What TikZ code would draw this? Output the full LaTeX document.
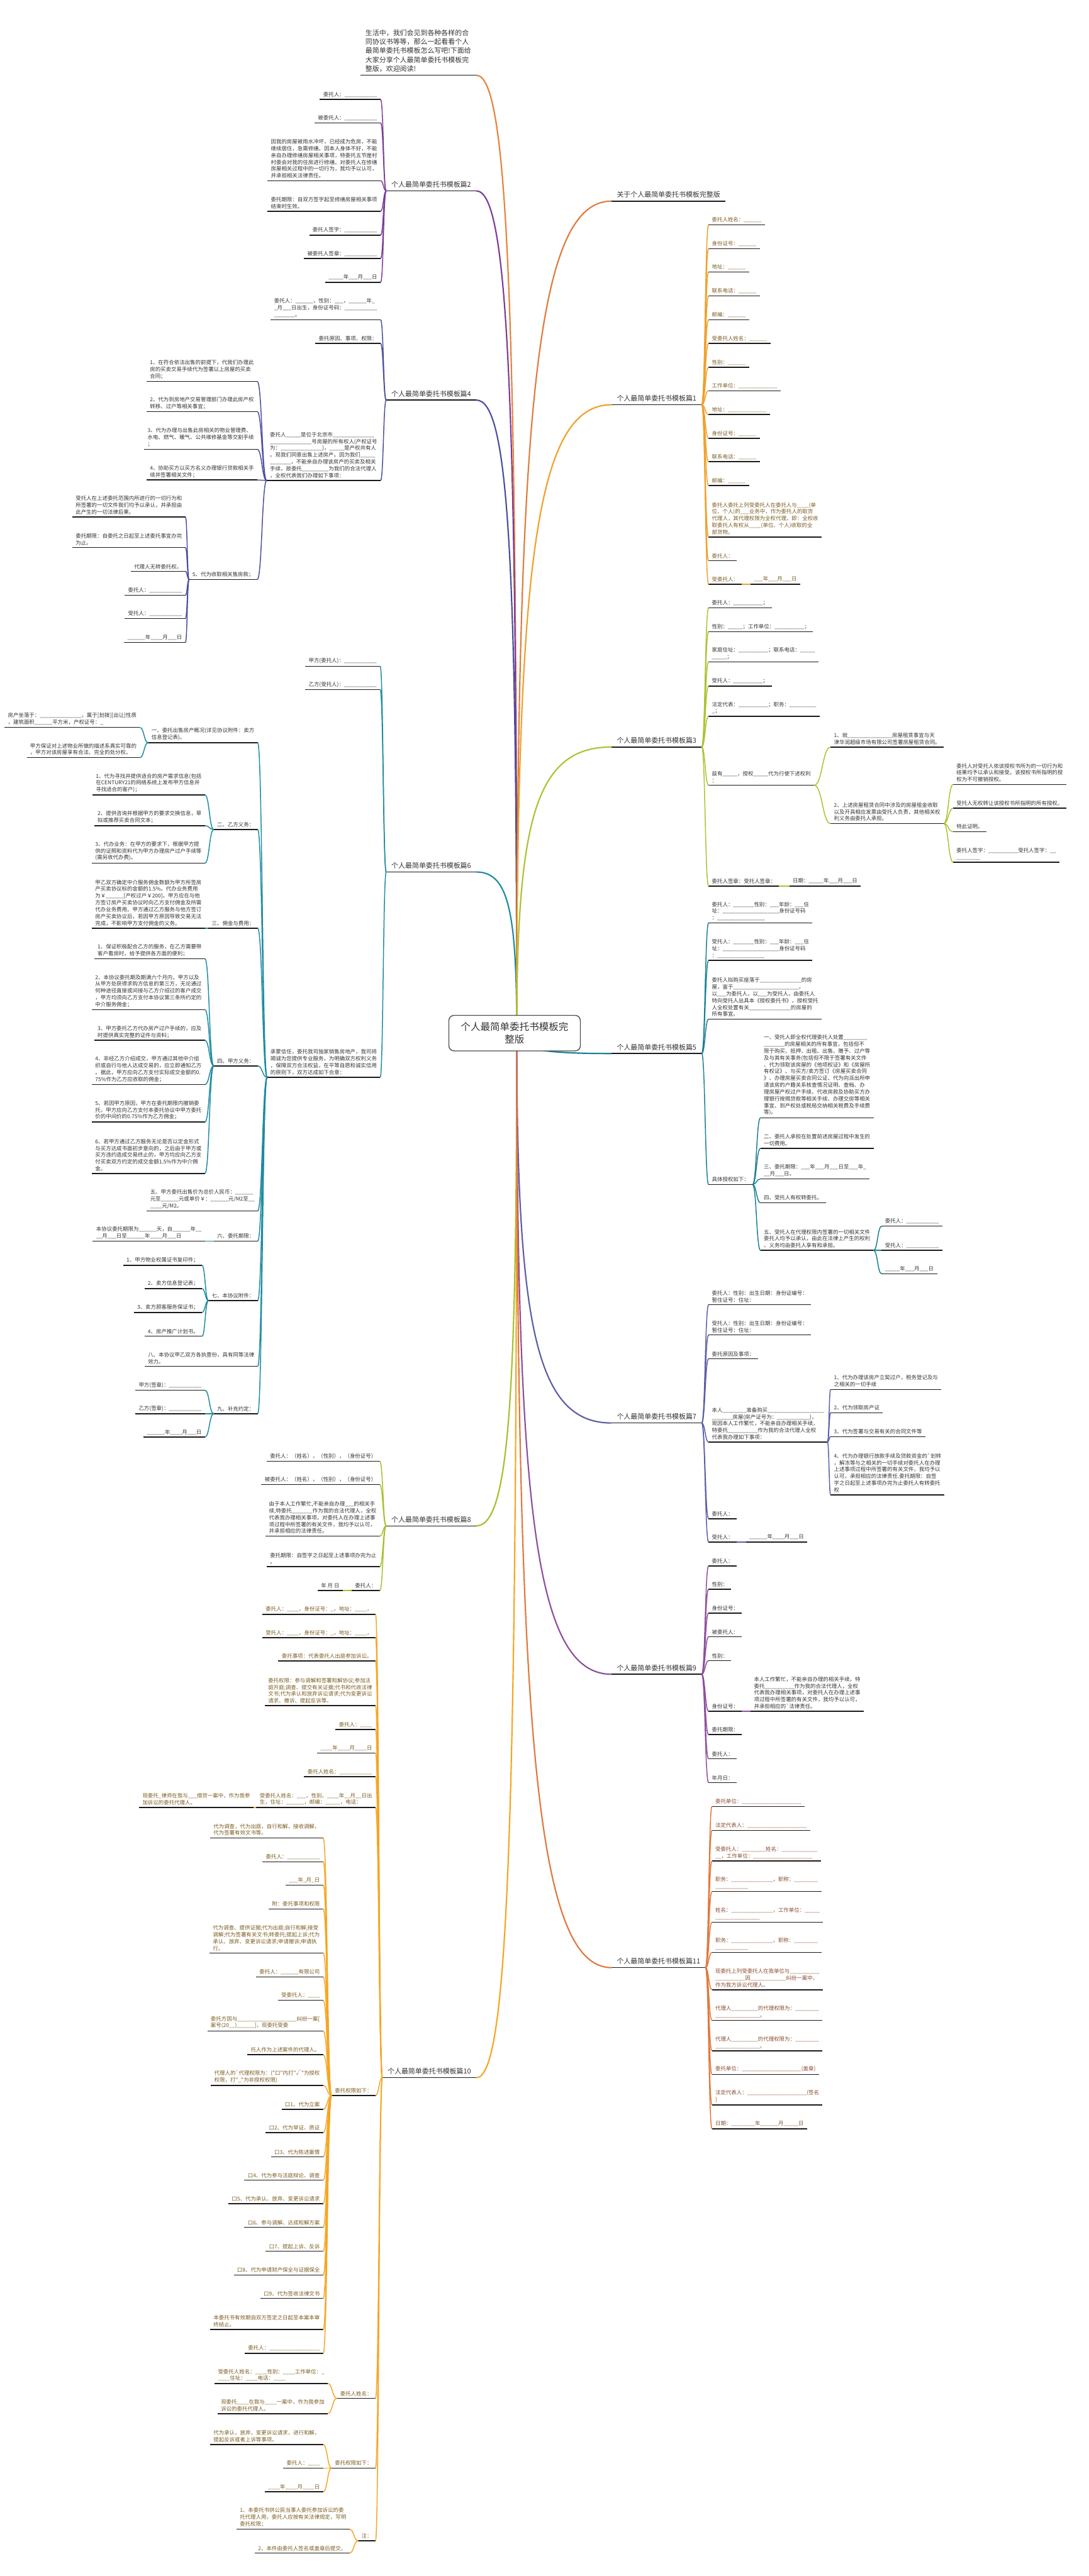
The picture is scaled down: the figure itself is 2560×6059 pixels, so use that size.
\documentclass[tikz,border=0pt]{standalone}
\usepackage{fontspec}
\newfontfamily\cjk{Noto Sans CJK SC}
\usetikzlibrary{calc}
\newcount\uscnt
\newcommand\usc[1]{\uscnt=#1\relax\loop\ifnum\uscnt>0 \_\advance\uscnt by -1\relax\repeat}
\newcommand\lfs{\cjk\fontsize{6.25pt}{8pt}\selectfont}
\newcommand\bfs{\cjk\fontsize{8.1pt}{10.6pt}\selectfont}
\newcommand\rfs{\cjk\fontsize{11.5pt}{15pt}\selectfont}
\definecolor{ulc}{HTML}{1A1A1A}
\definecolor{txd}{HTML}{333333}
\definecolor{tbr}{HTML}{7A5B1E}
\definecolor{trd}{HTML}{8A4B2E}
\definecolor{c0}{HTML}{E8823A}
\definecolor{c2}{HTML}{7D3C98}
\definecolor{c4}{HTML}{4B4E9C}
\definecolor{c6}{HTML}{1E8BA0}
\definecolor{c8}{HTML}{A3C12F}
\definecolor{c10}{HTML}{F5A623}
\definecolor{cA}{HTML}{E07B3C}
\definecolor{c1}{HTML}{F0A02A}
\definecolor{c3}{HTML}{A9C432}
\definecolor{c5}{HTML}{1B7F95}
\definecolor{c7}{HTML}{5B5EA6}
\definecolor{c9}{HTML}{8E4E9E}
\definecolor{c11}{HTML}{E0783E}
\tikzset{
  ulst/.style={draw=ulc, line width=1.1pt},
  leafb/.style={inner xsep=3.8pt, inner ysep=2.6pt, align=left, font=\lfs, text=txd,
     append after command={(\tikzlastnode.south west) edge[ulst] (\tikzlastnode.south east)}},
  lnode/.style={leafb, anchor=south east},
  rnode/.style={leafb, anchor=south west},
  brb/.style={inner xsep=6pt, inner ysep=3.5pt, align=left, font=\bfs, text=txd,
     append after command={(\tikzlastnode.south west) edge[ulst] (\tikzlastnode.south east)}},
  lbr/.style={brb, anchor=south east},
  rbr/.style={brb, anchor=south west},
  cn/.style={line width=1.1pt},
  rc/.style={line width=1.6pt},
  rootst/.style={draw=black!70, line width=1pt, rounded corners=6pt, fill=white, font=\rfs, text=txd, align=center, inner xsep=14pt, inner ysep=8pt}
}
\newcommand\LN[4][]{\node[lnode,#1] (#2) at #3 {#4};}
\newcommand\RN[4][]{\node[rnode,#1] (#2) at #3 {#4};}
\newcommand\CL[3]{\draw[cn,#1] let \p1=(#2.south west), \p2=(#3.south east), \p3=($(\p1)!.5!(\p2)$) in (\p1) .. controls (\x3,\y1) and (\x3,\y2) .. (\p2);}
\newcommand\CR[3]{\draw[cn,#1] let \p1=(#2.south east), \p2=(#3.south west), \p3=($(\p1)!.5!(\p2)$) in (\p1) .. controls (\x3,\y1) and (\x3,\y2) .. (\p2);}
\newcommand\RL[2]{\draw[rc,#1] let \p1=(#2.south east), \p2=(R) in (\p1) .. controls ($(\p1)!.8!(\x2,\y1)$) and ($(\x2,\y1)!.25!(\p2)$) .. (\p2);}
\newcommand\RRt[2]{\draw[rc,#1] let \p1=(#2.south west), \p2=(R) in (\p1) .. controls ($(\p1)!.8!(\x2,\y1)$) and ($(\x2,\y1)!.25!(\p2)$) .. (\p2);}
\begin{document}
\begin{tikzpicture}[x=0.5pt,y=-0.5pt]
\fill[white] (0,0) rectangle (2560,6059);
\useasboundingbox (0,0) rectangle (2560,6059);
\coordinate (R) at (1215,2430);
% ---------------- intro
\node[lbr] (intro) at (1120,177) {生活中，我们会见到各种各样的合\\同协议书等等，那么一起看看个人\\最简单委托书模板怎么写吧!下面给\\大家分享个人最简单委托书模板完\\整版，欢迎阅读!};
% ---------------- branches
\node[lbr] (b2) at (1120,449) {个人最简单委托书模板篇2};
\node[lbr] (b4) at (1120,941) {个人最简单委托书模板篇4};
\node[lbr] (b6) at (1120,2051) {个人最简单委托书模板篇6};
\node[lbr] (b8) at (1120,3589) {个人最简单委托书模板篇8};
\node[lbr] (b10) at (1120,4887) {个人最简单委托书模板篇10};
\node[rbr] (bA) at (1438,473) {关于个人最简单委托书模板完整版};
\node[rbr] (b1) at (1438,952) {个人最简单委托书模板篇1};
\node[rbr] (b3) at (1438,1757) {个人最简单委托书模板篇3};
\node[rbr] (b5) at (1438,2478) {个人最简单委托书模板篇5};
\node[rbr] (b7) at (1438,3347) {个人最简单委托书模板篇7};
\node[rbr] (b9) at (1438,3938) {个人最简单委托书模板篇9};
\node[rbr] (b11) at (1438,4628) {个人最简单委托书模板篇11};
% ---------------- 篇2
\LN{a1}{(895,234)}{委托人：\usc{11}}
\LN{a2}{(895,289)}{被委托人：\usc{11}}
\LN{a3}{(895,425)}{因我的房屋被雨水冲坏，已经成为危房，不能\\继续居住，急需修缮。因本人身体不好，不能\\亲自办理修缮房屋相关事项，特委托五节崖村\\村委会对我的住房进行修缮。对委托人在修缮\\房屋相关过程中的一切行为，我均予以认可，\\并承担相关法律责任。}
\LN{a4}{(895,497)}{委托期限：自双方签字起至修缮房屋相关事项\\结束时生效。}
\LN{a5}{(895,553)}{委托人签字：\usc{11}}
\LN{a6}{(895,608)}{被委托人签章：\usc{11}}
\LN{a7}{(895,664)}{\usc{5}年\usc{3}月\usc{3}日}
% ---------------- 篇4
\LN{d1}{(895,752)}{委托人：\usc{6}，性别：\usc{3}，\usc{6}年\_\\\_月\usc{3}日出生，身份证号码：\usc{11}\\\usc{7}。}
\LN{d2}{(895,808)}{委托原因、事项、权限：}
\LN{d3}{(895,1130)}{委托人\usc{5}是位于北京市\usc{14}\\\usc{14}号房屋的所有权人(产权证号\\为：\usc{14})，\usc{5}是产权共有人\\。现我们同意出售上述房产。因为我们\usc{5}\\\usc{7}，不能亲自办理该房产的买卖及相关\\手续，故委托\usc{9}为我们的合法代理人\\，全权代表我们办理如下事项：}
\LN{d31}{(605,897)}{1、在符合依法出售的前提下，代我们办理此\\房的买卖交易手续代为签署以上房屋的买卖\\合同；}
\LN{d32}{(605,968)}{2、代为到房地产交易管理部门办理此房产权\\转移、过户等相关事宜；}
\LN{d33}{(605,1057)}{3、代为办理与出售此房相关的物业管理费、\\水电、燃气、暖气、公共维修基金等交割手续\\；}
\LN{d34}{(605,1129)}{4、协助买方以买方名义办理银行贷款相关手\\续并签署相关文件；}
\LN{d35}{(605,1363)}{5、代为收取相关售房款；}
\LN{d351}{(436,1216)}{受托人在上述委托范围内所进行的一切行为和\\所签署的一切文件我们均予以承认，并承担由\\此产生的一切法律后果。}
\LN{d352}{(436,1288)}{委托期限：自委托之日起至上述委托事宜办完\\为止。}
\LN{d353}{(436,1344)}{代理人无转委托权。}
\LN{d354}{(436,1400)}{委托人：\usc{11}}
\LN{d355}{(436,1455)}{受托人：\usc{11}}
\LN{d356}{(436,1511)}{\usc{6}年\usc{4}月\usc{3}日}
% ---------------- 篇6
\LN{f1}{(894,1567)}{甲方(委托人)：\usc{11}}
\LN{f2}{(894,1622)}{乙方(受托人)：\usc{11}}
\LN{f3}{(894,2534)}{承蒙信任，委托我司独家销售房地产，我司将\\竭诚为您提供专业服务，为明确双方权利义务\\，保障双方合法权益，在平等自愿和诚实信用\\的原则下，双方达成如下合意：}
\LN{g1}{(606,1747)}{一、委托出售房产概况(详见协议附件：卖方\\信息登记表)。}
\LN{g11}{(329,1711)}{房产坐落于：\usc{14}，属于[划拨][出让]性质\\，建筑面积\usc{6}平方米，产权证号：\_}
\LN{g12}{(329,1782)}{甲方保证对上述物业所做的描述系真实可靠的\\，甲方对该房屋享有合法、完全的处分权。}
\LN{g2}{(606,1951)}{二、乙方义务：}
\LN{g21}{(482,1870)}{1、代为寻找并提供适合的房产需求信息(包括\\在CENTURY21的网络系统上发布甲方信息并\\寻找适合的客户)；}
\LN{g22}{(482,1942)}{2、提供咨询并根据甲方的要求交换信息，草\\拟或推荐买卖合同文本；}
\LN{g23}{(482,2030)}{3、代办业务：在甲方的要求下，根据甲方提\\供的证照和资料代为甲方办理房产过户手续等\\(需另收代办费)。}
\LN{g3}{(606,2183)}{三、佣金与费用：}
\LN{g31}{(482,2183)}{甲乙双方确定中介服务佣金数额为甲方所签房\\产买卖协议标的金额的1.5\%。代办业务费用\\为￥\usc{6}[产权过户￥200]。甲方应在与他\\方签订房产买卖协议时向乙方支付佣金及所需\\代办业务费用。甲方通过乙方服务与他方签订\\房产买卖协议后，若因甲方原因导致交易无法\\完成，不影响甲方支付佣金的义务。}
\LN{g4}{(606,2507)}{四、甲方义务：}
\LN{g41}{(482,2255)}{1、保证积极配合乙方的服务，在乙方需要带\\客户看房时，给予提供各方面的便利；}
\LN{g42}{(482,2375)}{2、本协议委托期及期满六个月内，甲方以及\\从甲方处获得求购方信息的第三方，无论通过\\何种途径直接或间接与乙方介绍过的客户成交\\，甲方均须向乙方支付本协议第三条所约定的\\中介服务佣金；}
\LN{g43}{(482,2447)}{3、甲方委托乙方代办房产过户手续的，应及\\时提供真实完整的证件与资料；}
\LN{g44}{(482,2551)}{4、非经乙方介绍成交，甲方通过其他中介组\\织或自行与他人达成交易的，应立即通知乙方\\。据此，甲方应向乙方支付实际成交金额的0.\\75\%作为乙方应收取的佣金；}
\LN{g45}{(482,2639)}{5、若因甲方原因，甲方在委托期限内撤销委\\托，甲方应向乙方支付本委托协议中甲方委托\\价的中间价的0.75\%作为乙方佣金；}
\LN{g46}{(482,2760)}{6、若甲方通过乙方服务无论是否以定金形式\\与买方达成书面初步意向的，之后由于甲方或\\买方违约造成交易终止的，甲方均应向乙方支\\付买卖双方约定的成交金额1.5\%作为中介佣\\金。}
\LN{g5}{(606,2848)}{五、甲方委托出售价为总价人民币：\usc{6}\\元至\usc{6}元或单价￥：\usc{6}元/M2至\usc{2}\\\usc{4}元/M2。}
\LN{g6}{(606,2919)}{六、委托期限：}
\LN{g61}{(482,2919)}{本协议委托期限为\usc{6}天，自\usc{6}年\usc{2}\\\usc{2}月\usc{3}日至\usc{6}年\usc{4}月\usc{3}日}
\LN{g7}{(606,3059)}{七、本协议附件：}
\LN{g71}{(475,2976)}{1、甲方物业权属证书复印件；}
\LN{g72}{(475,3031)}{2、卖方信息登记表；}
\LN{g73}{(475,3087)}{3、卖方顾客服务保证书；}
\LN{g74}{(475,3143)}{4、房产推广计划书。}
\LN{g8}{(606,3214)}{八、本协议甲乙双方各执壹份，具有同等法律\\效力。}
\LN{g9}{(606,3325)}{九、补充约定：}
\LN{g91}{(482,3270)}{甲方(签章)：\usc{11}}
\LN{g92}{(482,3325)}{乙方(签章)：\usc{11}}
\LN{g93}{(482,3380)}{\usc{6}年\usc{4}月\usc{3}日}
% ---------------- 篇8
\LN{h1}{(893,3437)}{委托人：（姓名），（性别），（身份证号）}
\LN{h2}{(893,3492)}{被委托人：（姓名），（性别），（身份证号）}
\LN{h3}{(893,3613)}{由于本人工作繁忙,不能亲自办理\usc{3}的相关手\\续,特委托\usc{7}作为我的合法代理人，全权\\代表我办理相关事项，对委托人在办理上述事\\项过程中所签署的有关文件，我均予以认可，\\并承担相应的法律责任。}
\LN{h4}{(893,3685)}{委托期限：自签字之日起至上述事项办完为止\\。}
\LN{h5}{(893,3741)}{委托人：}
\LN{h51}{(806,3741)}{年 月 日}
% ---------------- 篇10
\LN[text=tbr]{k1}{(883,3797)}{委托人：\usc{4}，身份证号：\_，地址：\usc{4}，}
\LN[text=tbr]{k2}{(883,3852)}{受托人：\usc{4}，身份证号：\_，地址：\usc{4}，}
\LN[text=tbr]{k3}{(883,3907)}{委托事项：代表委托人出庭参加诉讼。}
\LN[text=tbr]{k4}{(883,4012)}{委托权限：参与调解和签署和解协议;参加法\\庭开庭;调查、提交有关证据;代书和代收法律\\文书;代为承认和放弃诉讼请求;代为变更诉讼\\请求、撤诉、提起反诉等。}
\LN[text=tbr]{k5}{(883,4068)}{委托人：\usc{4}}
\LN[text=tbr]{k6}{(883,4123)}{\usc{4}年\usc{4}月\usc{4}日}
\LN[text=tbr]{k7}{(883,4179)}{委托人姓名：\usc{11}}
\LN[text=tbr]{k8}{(883,4251)}{受委托人姓名：\usc{3}，性别，\usc{4}年\usc{2}月\usc{2}日出\\生，住址：\usc{6}，邮编：\usc{5}，电话：}
\LN[text=tbr]{k81}{(596,4251)}{现委托\_律师在我与\usc{3}借贷一案中，作为我参\\加诉讼的委托代理人。}
\LN[text=tbr]{k9}{(883,4929)}{委托权限如下：}
\LN[text=tbr]{m1}{(760,4323)}{代为调查，代为出庭，自行和解，接收调解，\\代为签署有效文书等。}
\LN[text=tbr]{m2}{(760,4379)}{委托人：\usc{11}}
\LN[text=tbr]{m3}{(760,4434)}{\usc{3}年\_月\_日}
\LN[text=tbr]{m4}{(760,4490)}{附：委托事项和权限}
\LN[text=tbr]{m5}{(760,4594)}{代为调查、提供证据;代为出庭;自行和解;接受\\调解;代为签署有关文书;转委托;提起上诉;代为\\承认、放弃、变更诉讼请求;申请撤诉;申请执\\行。}
\LN[text=tbr]{m6}{(760,4650)}{委托人：\usc{6}有限公司}
\LN[text=tbr]{m7}{(760,4705)}{受委托人：\usc{4}}
\LN[text=tbr]{m8}{(760,4777)}{委托方因与\usc{20}纠纷一案[\\案号(20\usc{2})\usc{6}]，现委托受委}
\LN[text=tbr]{m9}{(760,4833)}{托人作为上述案件的代理人。}
\LN[text=tbr]{m10}{(760,4905)}{代理人的`代理权限为：("口"内打"√"为授权\\权限，打"\_"为非授权权限)}
\LN[text=tbr]{m11}{(760,4961)}{口1、代为立案}
\LN[text=tbr]{m12}{(760,5016)}{口2、代为举证、质证}
\LN[text=tbr]{m13}{(760,5073)}{口3、代为陈述案情}
\LN[text=tbr]{m14}{(760,5128)}{口4、代为参与法庭辩论、调查}
\LN[text=tbr]{m15}{(760,5183)}{口5、代为承认、放弃、变更诉讼请求}
\LN[text=tbr]{m16}{(760,5239)}{口6、参与调解、达成和解方案}
\LN[text=tbr]{m17}{(760,5295)}{口7、提起上诉、反诉}
\LN[text=tbr]{m18}{(760,5351)}{口8、代为申请财产保全与证据保全}
\LN[text=tbr]{m19}{(760,5406)}{口9、代为签收法律文书}
\LN[text=tbr]{m20}{(760,5479)}{本委托书有效期自双方签定之日起至本案本审\\终结止。}
\LN[text=tbr]{m21}{(760,5535)}{委托人：\usc{17}}
\LN[text=tbr]{k10}{(883,5641)}{委托人姓名：}
\LN[text=tbr]{n1}{(771,5606)}{受委托人姓名：\usc{4}性别：\usc{4}工作单位：\_\\\usc{4}住址：\usc{4}电话：\usc{4}}
\LN[text=tbr]{n2}{(771,5677)}{现委托\usc{4}在我与\usc{4}一案中，作为我参加\\诉讼的委托代理人。}
\LN[text=tbr]{k11}{(883,5805)}{委托权限如下：}
\LN[text=tbr]{o1}{(760,5750)}{代为承认，放弃，变更诉讼请求，进行和解，\\提起反诉或者上诉等事项。}
\LN[text=tbr]{o2}{(760,5805)}{委托人：\usc{4}}
\LN[text=tbr]{o3}{(760,5861)}{\usc{4}年\usc{4}月\usc{4}日}
\LN[text=tbr]{k12}{(883,5976)}{注：}
\LN[text=tbr]{p1}{(822,5949)}{1、本委托书供公民当事人委托参加诉讼的委\\托代理人用，委托人应按有关法律规定，写明\\委托权限；}
\LN[text=tbr]{p2}{(822,6005)}{2、本件由委托人签名或盖章后提交。}
% ---------------- 篇1
\RN[text=tbr]{q1}{(1666,529)}{委托人姓名：\usc{6}}
\RN[text=tbr]{q2}{(1666,585)}{身份证号：\usc{6}}
\RN[text=tbr]{q3}{(1666,640)}{地址：\usc{6}}
\RN[text=tbr]{q4}{(1666,696)}{联系电话：\usc{6}}
\RN[text=tbr]{q5}{(1666,752)}{邮编：\usc{6}}
\RN[text=tbr]{q6}{(1666,808)}{受委托人姓名：\usc{6}}
\RN[text=tbr]{q7}{(1666,864)}{性别：\usc{6}}
\RN[text=tbr]{q8}{(1666,919)}{工作单位：\usc{13}}
\RN[text=tbr]{q9}{(1666,975)}{地址：\usc{13}}
\RN[text=tbr]{q10}{(1666,1031)}{身份证号：\usc{6}}
\RN[text=tbr]{q11}{(1666,1086)}{联系电话：\usc{6}}
\RN[text=tbr]{q12}{(1666,1142)}{邮编：\usc{6}}
\RN[text=tbr]{q13}{(1666,1263)}{委托人委托上列受委托人在委托人与\usc{4}(单\\位、个人)的\usc{3}业务中，作为委托人的取货\\代理人，其代理权限为全权代理，即：全权收\\取委托人有权从\usc{4}(单位、个人)收取的全\\部货物。}
\RN[text=tbr]{q14}{(1666,1319)}{委托人：}
\RN[text=tbr]{q15}{(1666,1374)}{受委托人：}
\RN[text=tbr]{q151}{(1765,1374)}{\usc{3}年\usc{3}月\usc{3}日}
% ---------------- 篇3
\RN{r1}{(1666,1430)}{委托人：\usc{10}；}
\RN{r2}{(1666,1486)}{性别：\usc{5}；工作单位：\usc{10}；}
\RN{r3}{(1666,1557)}{家庭住址：\usc{10}；联系电话：\usc{5}\\\usc{5}；}
\RN{r4}{(1666,1614)}{受托人：\usc{10}；}
\RN{r5}{(1666,1685)}{法定代表：\usc{10}；职务：\usc{9}\\\_；}
\RN{r6}{(1666,1847)}{兹有\usc{5}，授权\usc{5}代为行使下述权利\\：}
\RN{r61}{(1953,1757)}{1、就\usc{15}房屋租赁事宜与天\\津华润超级市场有限公司签署房屋租赁合同。}
\RN{r62}{(1953,1937)}{2、上述房屋租赁合同中涉及的房屋租金收取\\以及开具相应发票由受托人负责，其他相关权\\利义务由委托人承担。}
\RN{r621}{(2241,1845)}{委托人对受托人依该授权书所为的一切行为和\\结果均予以承认和接受。该授权书所指明的授\\权为不可撤销授权。}
\RN{r622}{(2241,1901)}{受托人无权转让该授权书所指明的所有授权。}
\RN{r623}{(2241,1956)}{特此证明。}
\RN{r624}{(2241,2028)}{委托人签字：\usc{10}受托人签字：\usc{2}\\\usc{8}}
\RN{r7}{(1666,2084)}{委托人签章：受托人签章：}
\RN{r71}{(1856,2084)}{日期：\usc{5}年\usc{3}月\usc{3}日}
% ---------------- 篇5
\RN{s1}{(1666,2171)}{委托人：\usc{7}性别：\usc{3}年龄：\usc{3}住\\址：\usc{19}身份证号码\\：\usc{16}}
\RN{s2}{(1666,2259)}{受托人：\usc{7}性别：\usc{3}年龄：\usc{3}住\\址：\usc{19}身份证号码\\：\usc{16}}
\RN{s3}{(1666,2397)}{委托人拟购买座落于\usc{14}的房\\屋，鉴于\usc{22}，\\以\usc{3}为委托人，以\usc{3}为受托人，由委托人\\特向受托人出具本《授权委托书》，授权受托\\人全权处置有关\usc{14}的房屋的\\所有事宜。}
\RN{s4}{(1666,2786)}{具体授权如下：}
\RN{s41}{(1788,2629)}{一、受托人即全权代理委托人处置\usc{8}\\\usc{7}的房屋相关的所有事宜，包括但不\\限于购买、抵押、出租、出售、赠予、过户等\\及与其有关事务(包括但不限于签署有关文件\\、代为领取该房屋的《他项权证》和《房屋所\\有权证》、与买方/卖方签订《房屋买卖合同\\》、办理房屋买卖合同公证、代为向派出所申\\请该房的户籍关系核查情况证明、查档、办\\理房屋产权过户手续、代收房款及协助买方办\\理银行按揭贷款等相关手续、办理交房等相关\\事宜、到产权处或税局交纳相关税费及手续费\\等)。}
\RN{s42}{(1788,2701)}{二、委托人承担在处置前述房屋过程中发生的\\一切费用。}
\RN{s43}{(1788,2773)}{三、委托期限：\usc{3}年\usc{3}月\usc{3}日至\usc{3}年\_\\\usc{2}月\usc{3}日。}
\RN{s44}{(1788,2829)}{四、受托人有权转委托。}
\RN{s45}{(1788,2941)}{五、受托人在代理权限内签署的一切相关文件\\委托人均予以承认，由此在法律上产生的权利\\、义务均由委托人享有和承担。}
\RN{s451}{(2073,2884)}{委托人：\usc{11}}
\RN{s452}{(2073,2941)}{受托人：\usc{11}}
\RN{s453}{(2073,2996)}{\usc{5}年\usc{3}月\usc{3}日}
% ---------------- 篇7
\RN{t1}{(1666,3069)}{委托人：性别：出生日期：身份证编号：\\暂住证号：住址：}
\RN{t2}{(1666,3140)}{受托人：性别：出生日期：身份证编号：\\暂住证号：住址：}
\RN{t3}{(1666,3196)}{委托原因及事项：}
\RN{t4}{(1666,3392)}{本人\usc{8}准备购买\usc{19}\\\usc{7}房屋(房产证号为：\usc{11})，\\现因本人工作繁忙，不能亲自办理相关手续，\\特委托\usc{10}作为我的合法代理人全权\\代表我办理如下事项：}
\RN{t41}{(1953,3268)}{1、代为办理该房产立契过户，税务登记及与\\之相关的一切手续}
\RN{t42}{(1953,3323)}{2、代为领取房产证}
\RN{t43}{(1953,3379)}{3、代为签署与交易有关的合同文件等}
\RN{t44}{(1953,3516)}{4、代为办理银行放款手续及贷款资金的`划转\\，解冻等与之相关的一切手续对委托人在办理\\上述事项过程中所签署的有关文件，我均予以\\认可，承担相应的法律责任.委托期限：自签\\字之日起至上述事项办完为止委托人有转委托\\权}
\RN{t5}{(1666,3572)}{委托人：}
\RN{t6}{(1666,3627)}{受托人：}
\RN{t61}{(1754,3627)}{\usc{6}年\usc{4}月\usc{3}日}
% ---------------- 篇9
\RN{u1}{(1666,3683)}{委托人：}
\RN{u2}{(1666,3738)}{性别：}
\RN{u3}{(1666,3794)}{身份证号：}
\RN{u4}{(1666,3850)}{被委托人：}
\RN{u5}{(1666,3906)}{性别：}
\RN{u6}{(1666,4025)}{身份证号：}
\RN{u61}{(1765,4025)}{本人工作繁忙，不能亲自办理的相关手续，特\\委托\usc{10}作为我的合法代理人，全权\\代表我办理相关事项，对委托人在办理上述事\\项过程中所签署的有关文件，我均予以认可，\\并承担相应的`法律责任。}
\RN{u7}{(1666,4080)}{委托期限：}
\RN{u8}{(1666,4137)}{委托人：}
\RN{u9}{(1666,4193)}{年月日：}
% ---------------- 篇11
\RN[text=trd]{v1}{(1674,4249)}{委托单位：\usc{20}}
\RN[text=trd]{v2}{(1674,4305)}{法定代表人：\usc{20}}
\RN[text=trd]{v3}{(1674,4377)}{受委托人：\usc{8}姓名：\usc{12}\\\usc{2}，工作单位：\usc{20}}
\RN[text=trd]{v4}{(1674,4449)}{职务：\usc{14}，职称：\usc{8}\\\usc{11}}
\RN[text=trd]{v5}{(1674,4521)}{姓名：\usc{14}，工作单位：\usc{5}\\\usc{15}}
\RN[text=trd]{v6}{(1674,4592)}{职务：\usc{14}，职称：\usc{8}\\\usc{11}}
\RN[text=trd]{v7}{(1674,4680)}{现委托上列受委托人在我单位与\usc{10}\\\usc{10}因\usc{12}纠纷一案中，\\作为我方诉讼代理人。}
\RN[text=trd]{v8}{(1674,4752)}{代理人\usc{9}的代理权限为：\usc{8}\\\usc{15}。}
\RN[text=trd]{v9}{(1674,4824)}{代理人\usc{9}的代理权限为：\usc{8}\\\usc{15}。}
\RN[text=trd]{v10}{(1674,4879)}{委托单位：\usc{20}(盖章)}
\RN[text=trd]{v11}{(1674,4951)}{法定代表人：\usc{20}(签名\\)}
\RN[text=trd]{v12}{(1674,5007)}{日期：\usc{8}年\usc{6}月\usc{5}日}
% ================= connectors
\foreach \c in {a1,a2,a3,a4,a5,a6,a7} {\CL{c2}{b2}{\c}}
\foreach \c in {d1,d2,d3} {\CL{c4}{b4}{\c}}
\foreach \c in {d31,d32,d33,d34,d35} {\CL{c4}{d3}{\c}}
\foreach \c in {d351,d352,d353,d354,d355,d356} {\CL{c4}{d35}{\c}}
\foreach \c in {f1,f2,f3} {\CL{c6}{b6}{\c}}
\foreach \c in {g1,g2,g3,g4,g5,g6,g7,g8,g9} {\CL{c6}{f3}{\c}}
\foreach \c in {g11,g12} {\CL{c6}{g1}{\c}}
\foreach \c in {g21,g22,g23} {\CL{c6}{g2}{\c}}
\CL{c6}{g3}{g31}
\foreach \c in {g41,g42,g43,g44,g45,g46} {\CL{c6}{g4}{\c}}
\CL{c6}{g6}{g61}
\foreach \c in {g71,g72,g73,g74} {\CL{c6}{g7}{\c}}
\foreach \c in {g91,g92,g93} {\CL{c6}{g9}{\c}}
\foreach \c in {h1,h2,h3,h4,h5} {\CL{c8}{b8}{\c}}
\CL{c8}{h5}{h51}
\foreach \c in {k1,k2,k3,k4,k5,k6,k7,k8,k9,k10,k11,k12} {\CL{c10}{b10}{\c}}
\CL{c10}{k8}{k81}
\foreach \c in {m1,m2,m3,m4,m5,m6,m7,m8,m9,m10,m11,m12,m13,m14,m15,m16,m17,m18,m19,m20,m21} {\CL{c10}{k9}{\c}}
\foreach \c in {n1,n2} {\CL{c10}{k10}{\c}}
\foreach \c in {o1,o2,o3} {\CL{c10}{k11}{\c}}
\foreach \c in {p1,p2} {\CL{c10}{k12}{\c}}
\foreach \c in {q1,q2,q3,q4,q5,q6,q7,q8,q9,q10,q11,q12,q13,q14,q15} {\CR{c1}{b1}{\c}}
\CR{c1}{q15}{q151}
\foreach \c in {r1,r2,r3,r4,r5,r6,r7} {\CR{c3}{b3}{\c}}
\foreach \c in {r61,r62} {\CR{c3}{r6}{\c}}
\foreach \c in {r621,r622,r623,r624} {\CR{c3}{r62}{\c}}
\CR{c3}{r7}{r71}
\foreach \c in {s1,s2,s3,s4} {\CR{c5}{b5}{\c}}
\foreach \c in {s41,s42,s43,s44,s45} {\CR{c5}{s4}{\c}}
\foreach \c in {s451,s452,s453} {\CR{c5}{s45}{\c}}
\foreach \c in {t1,t2,t3,t4,t5,t6} {\CR{c7}{b7}{\c}}
\foreach \c in {t41,t42,t43,t44} {\CR{c7}{t4}{\c}}
\CR{c7}{t6}{t61}
\foreach \c in {u1,u2,u3,u4,u5,u6,u7,u8,u9} {\CR{c9}{b9}{\c}}
\CR{c9}{u6}{u61}
\foreach \c in {v1,v2,v3,v4,v5,v6,v7,v8,v9,v10,v11,v12} {\CR{c11}{b11}{\c}}
% root connectors
\RL{c0}{intro}
\RL{c2}{b2}
\RL{c4}{b4}
\RL{c6}{b6}
\RL{c8}{b8}
\RL{c10}{b10}
\RRt{cA}{bA}
\RRt{c1}{b1}
\RRt{c3}{b3}
\RRt{c5}{b5}
\RRt{c7}{b7}
\RRt{c9}{b9}
\RRt{c11}{b11}
\node[rootst] (root) at (1210,2430) {个人最简单委托书模板完\\整版};
\end{tikzpicture}
\end{document}
